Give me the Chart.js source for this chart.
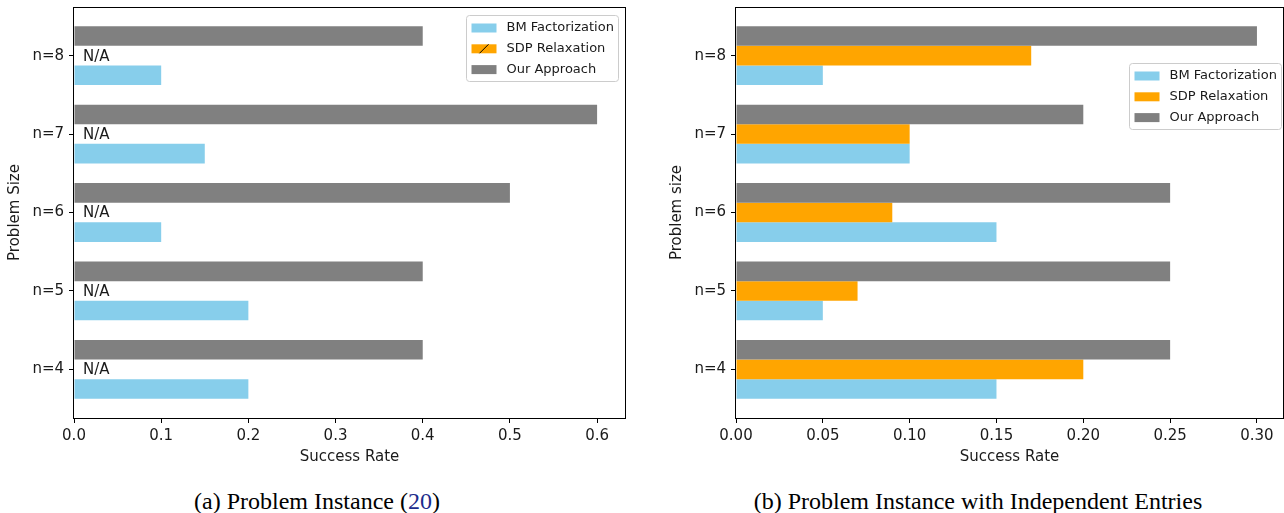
<!DOCTYPE html>
<html>
<head>
<meta charset="utf-8">
<script src="https://cdn.jsdelivr.net/npm/chart.js@4.4.1/dist/chart.umd.min.js"></script>
<style>
  body { margin: 0; background: #fff; width: 1284px; height: 513px; overflow: hidden; position: relative; }
  .panel { position: absolute; top: 0; height: 470px; }
  .caption { position: absolute; top: 489px; font-family: 'Liberation Serif', 'Times New Roman', serif; font-size: 24px; line-height: 24px; white-space: nowrap; transform: translateX(-50%); color: #000; }
  .cite { color: #1c2c8c; }
</style>
</head>
<body>
<div class="panel" style="left:0;width:642px"><canvas id="chartA"></canvas></div>
<div class="panel" style="left:652px;width:632px"><canvas id="chartB"></canvas></div>
<div class="caption" style="left:317px">(a) Problem Instance (<span class="cite">20</span>)</div>
<div class="caption" style="left:978px">(b) Problem Instance with Independent Entries</div>

<script>
const sizes = ['n=4', 'n=5', 'n=6', 'n=7', 'n=8']
const seriesNames = ['BM Factorization', 'SDP Relaxation', 'Our Approach']
const colors = ['#87CEEB', '#FFA500', '#808080']

// (a) problem instance -- SDP has no result (N/A)
const bmA = [0.2, 0.2, 0.1, 0.15, 0.1]
const sdpA = [null, null, null, null, null]
const oursA = [0.4, 0.4, 0.5, 0.6, 0.4]
const ticksA = [0, 0.1, 0.2, 0.3, 0.4, 0.5, 0.6]

// (b) independent entries
const bmB = [0.15, 0.05, 0.15, 0.1, 0.05]
const sdpB = [0.2, 0.07, 0.09, 0.1, 0.17]
const oursB = [0.25, 0.25, 0.25, 0.2, 0.3]
const ticksB = [0, 0.05, 0.1, 0.15, 0.2, 0.25, 0.3]

Chart.defaults.font.family = "'DejaVu Sans', sans-serif"
Chart.defaults.font.size = 15
Chart.defaults.color = '#1a1a1a'

// black box round the plot like matplotlib
const framePlugin = {
  id: 'frame',
  afterDatasetsDraw(chart) {
    const a = chart.chartArea
    const ctx = chart.ctx
    ctx.save()
    ctx.strokeStyle = '#000'
    ctx.lineWidth = 1
    ctx.strokeRect(Math.round(a.left) - 0.5, Math.round(a.top) + 0.5, Math.round(a.right - a.left) + 1, Math.round(a.bottom - a.top))
    ctx.restore()
  }
}

// "N/A" where a series has no value
const naPlugin = {
  id: 'naLabels',
  afterDatasetsDraw(chart, args, opts) {
    if (!opts.values) return
    const ctx = chart.ctx
    const xs = chart.scales.x, ys = chart.scales.y
    ctx.save()
    ctx.font = "15px 'DejaVu Sans'"
    ctx.fillStyle = '#1a1a1a'
    ctx.textBaseline = 'middle'
    opts.values.forEach((v, i) => {
      if (v === null) ctx.fillText('N/A', xs.getPixelForValue(0) + 9, ys.getPixelForValue(i) + 1)
    })
    ctx.restore()
  }
}

// legend box drawn inside the plot
const boxLegend = {
  id: 'boxLegend',
  afterDraw(chart, args, opts) {
    const ctx = chart.ctx
    const a = chart.chartArea
    const items = chart.data.datasets.slice().reverse()
    ctx.save()
    ctx.font = "13px 'DejaVu Sans'"
    let tw = 0
    items.forEach(d => { tw = Math.max(tw, ctx.measureText(d.label).width) })
    const w = Math.round(40 + tw + 5)
    const h = 66
    const x = Math.round(a.right - opts.right - w) + 0.5
    const y = Math.round(a.top + opts.top) + 0.5
    ctx.fillStyle = 'rgba(255,255,255,0.8)'
    ctx.strokeStyle = '#cccccc'
    ctx.lineWidth = 1
    ctx.beginPath()
    ctx.roundRect(x, y, w, h, 3)
    ctx.fill()
    ctx.stroke()
    items.forEach((d, i) => {
      const cy = y + 12.5 + i * 20.8
      ctx.fillStyle = d.backgroundColor
      ctx.fillRect(x + 5, cy - 4.5, 25, 9)
      if (opts.hatch && d.label === 'SDP Relaxation') {
        ctx.strokeStyle = '#000'
        ctx.beginPath()
        ctx.moveTo(x + 13, cy + 4.5)
        ctx.lineTo(x + 22, cy - 4.5)
        ctx.stroke()
      }
      ctx.fillStyle = '#1a1a1a'
      ctx.textBaseline = 'middle'
      ctx.fillText(d.label, x + 40, cy)
    })
    ctx.restore()
  }
}

function makeChart(id, bm, sdp, ours, ticks, xMax, decimals, cfg) {
  const series = [ours, sdp, bm]
  const order = [2, 1, 0]
  const datasets = series.map((vals, k) => ({
    label: seriesNames[order[k]],
    data: vals.map((v, i) => ({ x: v, y: i })),
    backgroundColor: colors[order[k]],
    borderWidth: 0,
    categoryPercentage: 0.75,
    barPercentage: 1
  }))

  return new Chart(document.getElementById(id), {
    type: 'bar',
    data: { datasets: datasets },
    plugins: [framePlugin, naPlugin, boxLegend],
    options: {
      indexAxis: 'y',
      responsive: true,
      maintainAspectRatio: false,
      animation: false,
      layout: { padding: { top: 7, right: cfg.rightPad, left: 0, bottom: 0 } },
      plugins: {
        legend: { display: false },
        tooltip: { enabled: false },
        naLabels: { values: cfg.naValues },
        boxLegend: { right: cfg.legendRight, top: cfg.legendTop, hatch: cfg.hatch }
      },
      scales: {
        x: {
          type: 'linear',
          min: 0,
          max: xMax,
          offset: false,
          afterBuildTicks: s => { s.ticks = ticks.map(v => ({ value: v })) },
          afterFit: s => { s.height = 52; s.paddingLeft = 0; s.paddingRight = 0 },
          ticks: { padding: 4, callback: v => v.toFixed(decimals), maxRotation: 0 },
          grid: { display: true, offset: false, drawOnChartArea: false, drawTicks: true, tickLength: 5, tickColor: '#000' },
          border: { display: false },
          title: { display: true, text: 'Success Rate', padding: { top: 4, bottom: 4 }, font: { size: 15 } }
        },
        y: {
          type: 'linear',
          min: -0.62,
          max: 4.62,
          offset: false,
          afterBuildTicks: s => { s.ticks = sizes.map((t, i) => ({ value: i })) },
          afterFit: s => { s.width = cfg.yWidth; s.paddingTop = 0; s.paddingBottom = 0 },
          ticks: { padding: 5, callback: v => sizes[Math.round(v)] },
          grid: { display: true, offset: false, drawOnChartArea: false, drawTicks: true, tickLength: 5, tickColor: '#000' },
          border: { display: false },
          title: { display: true, text: cfg.yTitle, padding: { top: cfg.titlePad, bottom: 0 }, font: { size: 15 } }
        }
      }
    }
  })
}

makeChart('chartA', bmA, sdpA, oursA, ticksA, 0.632, 1, {
  rightPad: 17, yWidth: 74, yTitle: 'Problem Size', titlePad: 6,
  naValues: sdpA, legendRight: 7, legendTop: 8, hatch: true
})

makeChart('chartB', bmB, sdpB, oursB, ticksB, 0.315, 2, {
  rightPad: 1, yWidth: 84, yTitle: 'Problem size', titlePad: 16,
  naValues: null, legendRight: 2, legendTop: 56, hatch: false
})
</script>
</body>
</html>
